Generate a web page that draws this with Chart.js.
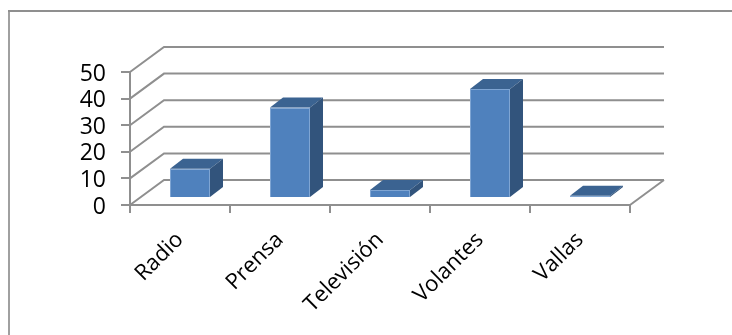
<!DOCTYPE html>
<html>
<head>
<meta charset="utf-8">
<style>
  html, body { margin: 0; padding: 0; background: #fff; overflow: hidden; }
  #box { position: absolute; left: 8px; top: 10px; width: 2px; height: 325px; background: #a0a0a0; }
  #boxTop { position: absolute; left: 8px; top: 10px; width: 724px; height: 2px; background: #8f8f8f; }
  #wrap { position: absolute; left: 0; top: 0; width: 732px; height: 335px; }
</style>
<script src="https://cdn.jsdelivr.net/npm/chart.js@4"></script>
</head>
<body>
<div id="box"></div>
<div id="boxTop"></div>
<div id="wrap"><canvas id="medios" width="732" height="335"></canvas></div>
<script>
const categories = ['Radio', 'Prensa', 'Televisión', 'Volantes', 'Vallas'];
const valores = [11, 34, 3, 41, 0.8];
const yTicks = [0, 10, 20, 30, 40, 50];

// how far the back wall and the bar fronts sit from the front axes
const wallDx = 34, wallDy = -25;
const barDx = 10, barDy = -7;
const sideDx = 13, sideDy = -10;

const walls3d = {
  id: 'walls3d',
  beforeDatasetsDraw(chart) {
    const { ctx, chartArea, scales: { y } } = chart;
    ctx.save();
    ctx.strokeStyle = '#8f8f8f';
    ctx.lineWidth = 2;
    yTicks.forEach(v => {
      const py = y.getPixelForValue(v);
      ctx.beginPath();
      ctx.moveTo(chartArea.left, py);
      ctx.lineTo(chartArea.left + wallDx, py + wallDy);
      ctx.lineTo(chartArea.right + wallDx, py + wallDy);
      ctx.stroke();
    });
    // right edge of the floor
    const py0 = y.getPixelForValue(0);
    ctx.beginPath();
    ctx.moveTo(chartArea.right, py0);
    ctx.lineTo(chartArea.right + wallDx, py0 + wallDy);
    ctx.stroke();
    ctx.restore();
    // bars are drawn shifted back onto the floor
    ctx.save();
    ctx.translate(barDx, barDy);
  },
  afterDatasetsDraw(chart) {
    const { ctx } = chart;
    const meta = chart.getDatasetMeta(0);
    meta.data.forEach(bar => {
      const { x, y, base, width } = bar.getProps(['x', 'y', 'base', 'width'], true);
      const l = x - width / 2, r = x + width / 2;
      ctx.fillStyle = '#3b6391';
      ctx.beginPath();
      ctx.moveTo(l, y);
      ctx.lineTo(l + sideDx, y + sideDy);
      ctx.lineTo(r + sideDx, y + sideDy);
      ctx.lineTo(r, y);
      ctx.closePath();
      ctx.fill();
      ctx.fillStyle = '#32547c';
      ctx.beginPath();
      ctx.moveTo(r, y);
      ctx.lineTo(r + sideDx, y + sideDy);
      ctx.lineTo(r + sideDx, base + sideDy);
      ctx.lineTo(r, base);
      ctx.closePath();
      ctx.fill();
    });
    ctx.restore();
  }
};

new Chart(document.getElementById('medios'), {
  type: 'bar',
  data: {
    labels: categories,
    datasets: [{
      data: valores,
      backgroundColor: '#4f81bd',
      borderColor: '#7fa5d3',
      borderWidth: 1,
      barPercentage: 0.4,
      categoryPercentage: 1
    }]
  },
  options: {
    responsive: false,
    animation: false,
    layout: { padding: { top: 72, right: 102, bottom: 0, left: 0 } },
    plugins: { legend: { display: false }, tooltip: { enabled: false } },
    scales: {
      y: {
        min: 0,
        max: 50,
        afterFit: s => { s.width = 130; },
        afterBuildTicks: s => { s.ticks = yTicks.map(v => ({ value: v })); },
        grid: { drawOnChartArea: false, color: '#8f8f8f', lineWidth: 2, tickLength: 9 },
        border: { color: '#8f8f8f', width: 2 },
        ticks: { color: '#000', padding: 15, labelOffset: 2, autoSkip: false, font: { family: '"Open Sans"', size: 23 } }
      },
      x: {
        afterFit: s => { s.height = 130; },
        grid: { drawOnChartArea: false, color: '#8f8f8f', lineWidth: 2, tickLength: 8 },
        border: { color: '#8f8f8f', width: 2 },
        ticks: { color: '#000', padding: 14, autoSkip: false, minRotation: 45, maxRotation: 45, font: { family: '"Open Sans"', size: 22 } }
      }
    }
  },
  plugins: [walls3d]
});
</script>
</body>
</html>
